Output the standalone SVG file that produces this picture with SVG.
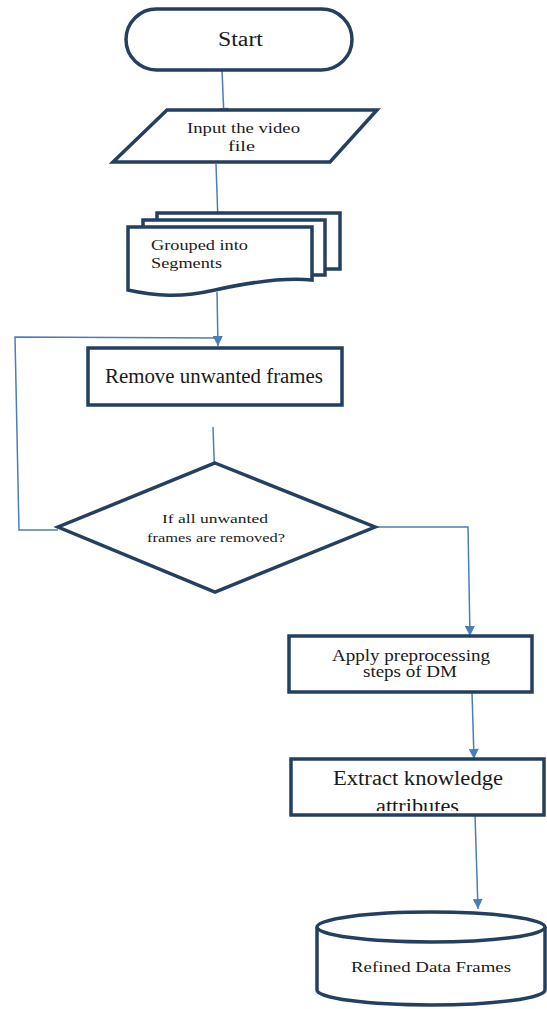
<svg xmlns="http://www.w3.org/2000/svg" width="547" height="1009" viewBox="0 0 547 1009">
<style>
.shape{fill:#fff;stroke:#243f60;stroke-width:3.5;stroke-linejoin:miter}
.conn{fill:none;stroke:#4a7ebb;stroke-width:1.5}
.t{fill:#1a1a1a}
</style>
<defs>
<marker id="arr" viewBox="0 0 10 10" refX="10" refY="5" markerWidth="11" markerHeight="10" orient="auto" markerUnits="userSpaceOnUse">
<path d="M0,0 L10,5 L0,10 Z" fill="#4a7ebb"/>
</marker>
<clipPath id="extractClip"><rect x="291" y="759" width="252" height="52"/></clipPath>
</defs>
<g id="connectors">
<path class="conn" d="M222,70 L224,118" marker-end="url(#arr)"/>
<path class="conn" d="M216,164 L218,222" marker-end="url(#arr)"/>
<path class="conn" d="M217,292 L218,346" marker-end="url(#arr)"/>
<path class="conn" d="M58,530 L19,530 L15,337 L217,338"/>
<path class="conn" d="M213,427 L215,485" marker-end="url(#arr)"/>
<path class="conn" d="M375,527 L468,527 L470,636" marker-end="url(#arr)"/>
<path class="conn" d="M472,692 L474,759" marker-end="url(#arr)"/>
<path class="conn" d="M475,815 L478,909" marker-end="url(#arr)"/>
</g>
<g font-family="'Liberation Serif','DejaVu Serif','Times New Roman',serif" lengthAdjust="spacingAndGlyphs">
<g id="start">
<rect class="shape" x="126" y="9" width="226" height="61" rx="30.5" ry="30.5"/>
<text class="t" x="218" y="46" font-size="20" textLength="45" lengthAdjust="spacingAndGlyphs">Start</text>
</g>
<g id="input">
<path class="shape" d="M167,110 L377,110 L330,162 L113,162 Z"/>
<text class="t" x="187" y="133" font-size="15" textLength="113" lengthAdjust="spacingAndGlyphs">Input the video</text>
<text class="t" x="228" y="151" font-size="15" textLength="27" lengthAdjust="spacingAndGlyphs">file</text>
</g>
<g id="grouped">
<rect class="shape" x="157" y="213" width="183" height="56"/>
<rect class="shape" x="143" y="220" width="182" height="55"/>
<path class="shape" d="M128,227 L312,227 L312,280 C290,278 255,281 215,290 C180,298 155,296 128,290 Z"/>
<text class="t" x="151" y="250" font-size="15.5" textLength="97" lengthAdjust="spacingAndGlyphs">Grouped into</text>
<text class="t" x="151" y="268" font-size="15.5" textLength="71" lengthAdjust="spacingAndGlyphs">Segments</text>
</g>
<g id="remove">
<rect class="shape" x="88" y="348" width="254" height="57"/>
<text class="t" x="105" y="383" font-size="20" textLength="218" lengthAdjust="spacingAndGlyphs">Remove unwanted frames</text>
</g>
<g id="decision">
<path class="shape" d="M215,463 L375,527 L215,592 L58,527 Z"/>
<text class="t" x="162" y="523" font-size="13" textLength="106" lengthAdjust="spacingAndGlyphs">If all unwanted</text>
<text class="t" x="147" y="542" font-size="13" textLength="138" lengthAdjust="spacingAndGlyphs">frames are removed?</text>
</g>
<g id="apply">
<rect class="shape" x="289" y="636" width="243" height="56"/>
<text class="t" x="332" y="661" font-size="16" textLength="158" lengthAdjust="spacingAndGlyphs">Apply preprocessing</text>
<text class="t" x="363" y="677" font-size="16" textLength="94" lengthAdjust="spacingAndGlyphs">steps of DM</text>
</g>
<g id="extract">
<rect x="291" y="759" width="253" height="56" fill="#fff"/>
<g clip-path="url(#extractClip)">
<text class="t" x="333" y="785" font-size="20" textLength="170" lengthAdjust="spacingAndGlyphs">Extract knowledge</text>
<text class="t" x="376" y="813" font-size="20" textLength="83" lengthAdjust="spacingAndGlyphs">attributes</text>
</g>
<rect x="291" y="759" width="253" height="56" fill="none" stroke="#243f60" stroke-width="3.5"/>
</g>
<g id="refined">
<path class="shape" d="M317,927 L317,990 A114,15 0 0 0 545,990 L545,927"/>
<ellipse class="shape" cx="431" cy="927" rx="114" ry="15"/>
<text class="t" x="351" y="972" font-size="15" textLength="160" lengthAdjust="spacingAndGlyphs">Refined Data Frames</text>
</g>
</g>
</svg>
